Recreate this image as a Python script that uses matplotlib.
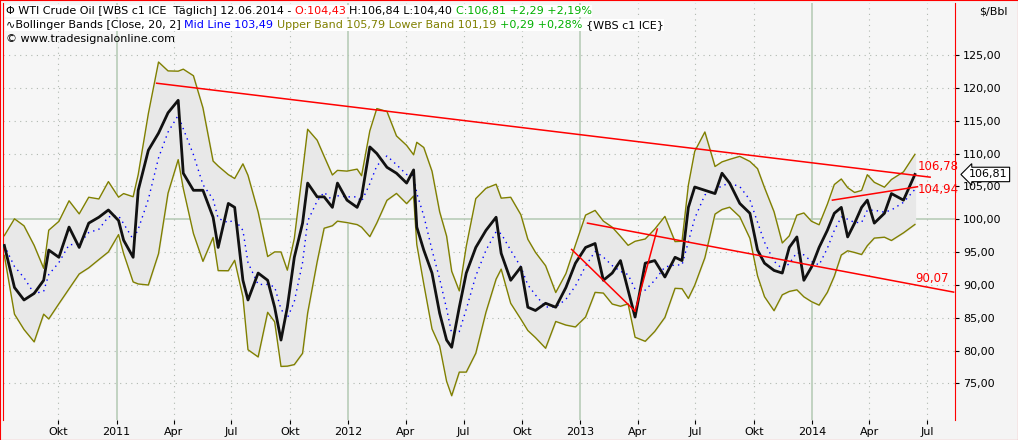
import matplotlib
matplotlib.use("Agg")
import matplotlib.pyplot as plt
import pandas as pd
import numpy as np

dates = ["2010-07-08","2010-07-24","2010-08-08","2010-08-24","2010-09-08","2010-09-16","2010-10-02","2010-10-18",
"2010-11-03","2010-11-18","2010-12-04","2010-12-19","2011-01-04","2011-01-12","2011-01-27","2011-02-04","2011-02-20",
"2011-03-08","2011-03-23","2011-04-08","2011-04-16","2011-05-02","2011-05-17","2011-06-02","2011-06-10","2011-06-26",
"2011-07-06","2011-07-19","2011-07-27","2011-08-12","2011-08-27","2011-09-07","2011-09-17","2011-09-27","2011-10-08",
"2011-10-21","2011-10-29","2011-11-13","2011-11-24","2011-12-07","2011-12-15","2011-12-30","2012-01-15","2012-01-22",
"2012-02-04","2012-02-15","2012-03-02","2012-03-17","2012-04-02","2012-04-13","2012-04-18","2012-04-29","2012-05-12",
"2012-05-24","2012-06-04","2012-06-12","2012-06-24","2012-07-05","2012-07-20","2012-08-05","2012-08-21","2012-08-29",
"2012-09-13","2012-09-29","2012-10-10","2012-10-22","2012-11-07","2012-11-23","2012-12-09","2012-12-24","2013-01-09",
"2013-01-24","2013-02-06","2013-02-20","2013-03-05","2013-03-17","2013-03-28","2013-04-13","2013-04-28","2013-05-14",
"2013-05-30","2013-06-10","2013-06-20","2013-06-30","2013-07-16","2013-08-01","2013-08-12","2013-08-24","2013-09-09",
"2013-09-25","2013-10-07","2013-10-18","2013-11-02","2013-11-15","2013-11-26","2013-12-08","2013-12-19","2013-12-31",
"2014-01-12","2014-01-25","2014-02-05","2014-02-16","2014-02-26","2014-03-09","2014-03-20","2014-03-29","2014-04-09",
"2014-04-25","2014-05-06","2014-05-25","2014-06-12"]
closes = [96.0,89.6,87.7,88.7,90.7,95.3,94.2,98.8,95.7,99.4,100.3,101.4,99.8,96.8,94.2,104.4,110.5,113.1,116.2,118.1,
107.0,104.4,104.4,100.3,95.7,102.4,101.8,90.7,87.7,91.8,90.7,86.6,81.6,86.6,94.2,99.4,105.5,103.4,103.4,101.8,105.5,
102.9,101.8,103.4,111.0,110.0,107.9,107.0,105.5,107.5,98.8,95.3,91.8,85.7,81.6,80.5,86.6,91.8,95.7,98.3,100.3,94.8,
90.7,92.7,86.6,86.1,87.2,86.6,89.6,93.3,95.7,96.3,90.7,91.8,93.7,89.2,85.1,93.3,93.7,91.2,94.2,93.7,101.8,104.9,104.4,
103.9,107.0,105.5,102.4,100.9,95.3,93.3,92.2,91.8,95.7,97.3,90.7,92.7,95.7,98.3,100.9,101.8,97.3,99.4,101.8,102.9,
99.4,100.9,103.9,102.9,106.81]

tl_main = (["2011-03-05","2014-07-06"], [120.7,106.4])
tl_low = (["2013-01-12","2014-08-12"], [99.4,88.9])
tl_up = (["2014-02-02","2014-06-16"], [102.9,104.94])
tl_down_small = (["2012-12-18","2013-03-28"], [95.4,86.0])
tl_up_small = (["2013-03-28","2013-05-02"], [86.0,98.5])

tick_dates = ["2010-10-01","2011-01-01","2011-04-01","2011-07-01","2011-10-01","2012-01-01","2012-04-01","2012-07-01",
"2012-10-01","2013-01-01","2013-04-01","2013-07-01","2013-10-01","2014-01-01","2014-04-01","2014-07-01"]
tick_labels = ["Okt","2011","Apr","Jul","Okt","2012","Apr","Jul","Okt","2013","Apr","Jul","Okt","2014","Apr","Jul"]
yticks = [75,80,85,90,95,100,105,110,115,120,125]

d = pd.to_datetime(dates)
s = pd.Series(closes, index=d)
mid = s.rolling(3, min_periods=1).mean()
sd = s.rolling(4, min_periods=1).std(ddof=0).fillna(0)
up = mid + 1.8*sd + 1.5
lo = mid - 1.8*sd - 1.5

fig = plt.figure(figsize=(10.18,4.40), dpi=100)
fig.patch.set_facecolor("#f4f4f4")
ax = fig.add_axes([0.003,0.045,0.935,0.948])
ax.set_facecolor("#f6f6f6")
ax.set_xlim(pd.Timestamp("2010-07-06"), pd.Timestamp("2014-08-14"))
ax.set_ylim(69.4,132.9)

for yt in yticks:
    if yt == 100:
        ax.axhline(yt, color="#b8ccb8", lw=1.2, zorder=0)
    else:
        ax.axhline(yt, color="#b0b8b0", lw=0.8, ls=(0,(1,4)), zorder=0)
for td, tl in zip(tick_dates, tick_labels):
    t = pd.Timestamp(td)
    if tl.isdigit():
        ax.axvline(t, color="#b8ccb8", lw=1.2, zorder=0)
    else:
        ax.axvline(t, color="#b0b8b0", lw=0.8, ls=(0,(1,4)), zorder=0)

ax.fill_between(d, lo, up, color="#e8e8e8", zorder=1)
ax.plot(d, up, color="#808000", lw=1, zorder=2)
ax.plot(d, lo, color="#808000", lw=1, zorder=2)
ax.plot(d, mid, color="blue", lw=1, ls=(0,(1,3)), zorder=2)
ax.plot(d, s, color="#111111", lw=2.0, zorder=3)

for tl in [tl_main, tl_low, tl_up, tl_down_small, tl_up_small]:
    ax.plot(pd.to_datetime(tl[0]), tl[1], color="red", lw=1.1, zorder=4)

ax.text(pd.Timestamp("2014-06-16"), 107.5, "106,78", color="red", fontsize=8.5)
ax.text(pd.Timestamp("2014-06-16"), 104.0, "104,94", color="red", fontsize=8.5)
ax.text(pd.Timestamp("2014-06-12"), 90.5, "90,07", color="red", fontsize=8.5)

ax.yaxis.tick_right()
ax.set_yticks(yticks)
ax.set_yticklabels([f"{v},00" for v in yticks], fontsize=8)
ax.set_xticks(pd.to_datetime(tick_dates))
ax.set_xticklabels(tick_labels, fontsize=8)
ax.tick_params(axis="x", length=3, pad=2)
ax.tick_params(axis="y", length=3, pad=3)
for sp in ["top","bottom"]:
    ax.spines[sp].set_visible(False)
ax.spines["right"].set_color("red")
ax.spines["left"].set_color("red")

ax.annotate("106,81", xy=(1.0, (106.81-69.4)/(132.9-69.4)), xycoords="axes fraction",
            xytext=(10,0), textcoords="offset points", fontsize=8, va="center",
            bbox=dict(boxstyle="larrow,pad=0.2", fc="white", ec="black", lw=0.8))

fig.text(0.962, 0.975, "$/Bbl", fontsize=8, ha="left", va="center")

x0 = 0.006
parts1 = [("\u03a6 WTI Crude Oil [WBS c1 ICE  Täglich] 12.06.2014 - ","black"),("O:104,43 ","red"),
          ("H:106,84 L:104,40 ","black"),("C:106,81 +2,29 +2,19%","#00b000")]
parts2 = [("\u223fBollinger Bands [Close, 20, 2] ","black"),("Mid Line 103,49 ","blue"),
          ("Upper Band 105,79 Lower Band 101,19 ","#808000"),("+0,29 +0,28% ","#00b000"),("{WBS c1 ICE}","black")]
r = fig.canvas.get_renderer()
for yy, parts in [(0.975, parts1), (0.943, parts2)]:
    x = x0
    for txt, col in parts:
        t = fig.text(x, yy, txt, color=col, fontsize=8, va="center", ha="left",
                     bbox=dict(fc="white", ec="none", pad=0.5))
        bb = t.get_window_extent(renderer=r)
        x += bb.width/fig.bbox.width
fig.text(x0, 0.911, "© www.tradesignalonline.com", fontsize=8, va="center", ha="left")

frame = fig.add_axes([0,0,1,1], facecolor="none")
frame.set_xticks([]); frame.set_yticks([])
for s_ in frame.spines.values():
    s_.set_color("red")

fig.savefig("out.png", dpi=100, facecolor=fig.get_facecolor())
